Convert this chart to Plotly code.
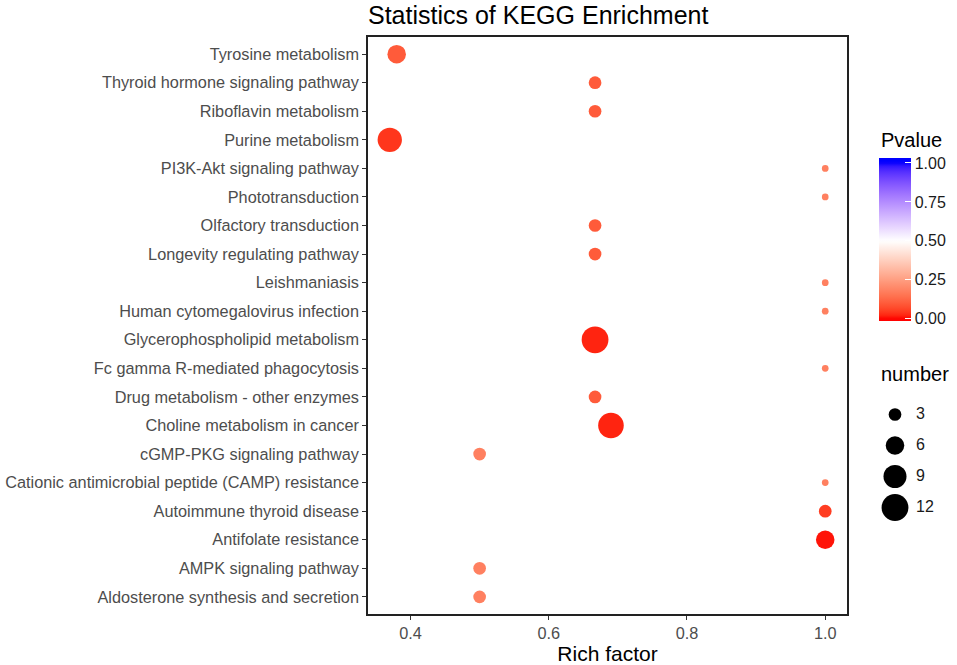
import plotly.graph_objects as go
import numpy as np

# ---------------- data ----------------
pathways = [
    "Tyrosine metabolism",
    "Thyroid hormone signaling pathway",
    "Riboflavin metabolism",
    "Purine metabolism",
    "PI3K-Akt signaling pathway",
    "Phototransduction",
    "Olfactory transduction",
    "Longevity regulating pathway",
    "Leishmaniasis",
    "Human cytomegalovirus infection",
    "Glycerophospholipid metabolism",
    "Fc gamma R-mediated phagocytosis",
    "Drug metabolism - other enzymes",
    "Choline metabolism in cancer",
    "cGMP-PKG signaling pathway",
    "Cationic antimicrobial peptide (CAMP) resistance",
    "Autoimmune thyroid disease",
    "Antifolate resistance",
    "AMPK signaling pathway",
    "Aldosterone synthesis and secretion",
]
rich_factor = [0.38, 0.667, 0.667, 0.37, 1.0, 1.0, 0.667, 0.667, 1.0, 1.0,
               0.667, 1.0, 0.667, 0.69, 0.5, 1.0, 1.0, 1.0, 0.5, 0.5]
number = [6, 3, 3, 10, 1, 1, 3, 3, 1, 1, 12, 1, 3, 11, 3, 1, 3, 6, 3, 3]
pvalue = [0.10, 0.10, 0.10, 0.04, 0.18, 0.18, 0.10, 0.10, 0.18, 0.18,
          0.02, 0.18, 0.10, 0.02, 0.18, 0.18, 0.05, 0.01, 0.18, 0.18]
size_breaks = [3, 6, 9, 12]
p_ticks = [0, 0.25, 0.5, 0.75, 1.0]

# ---------------- Lab colour interpolation (ggplot gradient2 style) ----------------
def _lin(c):
    c = c / 255.0
    return c / 12.92 if c <= 0.04045 else ((c + 0.055) / 1.055) ** 2.4

def _delin(c):
    c = 12.92 * c if c <= 0.0031308 else 1.055 * max(c, 0) ** (1 / 2.4) - 0.055
    return int(round(min(max(c, 0), 1) * 255))

M = np.array([[0.4124564, 0.3575761, 0.1804375],
              [0.2126729, 0.7151522, 0.0721750],
              [0.0193339, 0.1191920, 0.9503041]])
Minv = np.linalg.inv(M)
WP = np.array([0.95047, 1.0, 1.08883])

def _f(t):
    return t ** (1 / 3) if t > 216 / 24389 else (24389 / 27 * t + 16) / 116

def _finv(t):
    return t ** 3 if t ** 3 > 216 / 24389 else (116 * t - 16) / (24389 / 27)

def rgb2lab(rgb):
    xyz = M @ np.array([_lin(v) for v in rgb]) / WP
    fx, fy, fz = [_f(v) for v in xyz]
    return np.array([116 * fy - 16, 500 * (fx - fy), 200 * (fy - fz)])

def lab2rgb(lab):
    L, a, b = lab
    fy = (L + 16) / 116
    fx = fy + a / 500
    fz = fy - b / 200
    xyz = np.array([_finv(fx), _finv(fy), _finv(fz)]) * WP
    rgb = Minv @ xyz
    return tuple(_delin(v) for v in rgb)

low, mid, high = rgb2lab((255, 0, 0)), rgb2lab((255, 255, 255)), rgb2lab((0, 0, 255))

def pcolor(v):
    v = min(max(v, 0.0), 1.0)
    if v <= 0.5:
        lab = low + (mid - low) * (v / 0.5)
    else:
        lab = mid + (high - mid) * ((v - 0.5) / 0.5)
    return lab2rgb(lab)

# ggplot's colourbar runs slightly past its limits
CMIN, CMAX = -0.015, 1.032
colorscale = []
for t in np.linspace(0, 1, 61):
    r, g, b = pcolor(CMIN + t * (CMAX - CMIN))
    colorscale.append([float(t), f"rgb({r},{g},{b})"])

# ---------------- size scale (area ~ number) ----------------
nmin, nmax = 1, 12
dmin, dmax = 6.7, 26.8
def size_scale(n):
    n = np.asarray(n, dtype=float)
    return dmin + (dmax - dmin) * (np.sqrt(n) - np.sqrt(nmin)) / (np.sqrt(nmax) - np.sqrt(nmin))

FONT = "Liberation Sans, Arial, sans-serif"
W, H = 957, 665
L_M, R_M, T_M, B_M = 368, 10, 37, 51
PW = W - L_M - R_M
PH = H - T_M - B_M

def px_x(x):
    return (x - L_M) / PW

def px_y(y):
    return (H - B_M - y) / PH

fig = go.Figure()
fig.add_trace(go.Scatter(
    x=rich_factor, y=pathways, mode="markers",
    marker=dict(size=size_scale(number), color=pvalue, colorscale=colorscale,
                cmin=CMIN, cmax=CMAX, line=dict(width=0), opacity=1,
                colorbar=dict(
                    x=px_x(879), xanchor="left", xpad=0,
                    y=px_y(321), yanchor="bottom", ypad=0,
                    lenmode="pixels", len=163,
                    thickness=32, outlinewidth=0,
                    tickvals=p_ticks, tickformat=".2f", ticks="inside",
                    ticklen=6, tickcolor="white", tickwidth=1,
                    tickfont=dict(size=16, color="#1a1a1a", family=FONT),
                )),
    showlegend=False, hoverinfo="skip",
))

# size legend drawn on its own small axes (x range in px units of that axis)
fig.add_trace(go.Scatter(
    x=[15] * len(size_breaks), y=[str(v) for v in size_breaks], mode="markers",
    marker=dict(size=size_scale(size_breaks), color="black", line=dict(width=0), opacity=1),
    xaxis="x2", yaxis="y2", showlegend=False, hoverinfo="skip",
))
fig.add_trace(go.Scatter(
    x=[36] * len(size_breaks), y=[str(v) for v in size_breaks], mode="text",
    text=[str(v) for v in size_breaks], textposition="middle right",
    textfont=dict(size=16, color="#1a1a1a", family=FONT),
    xaxis="x2", yaxis="y2", showlegend=False, hoverinfo="skip",
))

fig.update_layout(
    width=W, height=H,
    margin=dict(l=L_M, r=R_M, t=T_M, b=B_M, autoexpand=False),
    paper_bgcolor="white", plot_bgcolor="white",
    font=dict(family=FONT),
    title=dict(text="Statistics of KEGG Enrichment", x=0, xref="paper", xanchor="left",
               y=1 - 15 / H, yref="container", yanchor="middle",
               font=dict(size=25, color="black", family=FONT)),
    xaxis=dict(domain=[0, px_x(847)], range=[0.3385, 1.0315], automargin=False,
               tickvals=[0.4, 0.6, 0.8, 1.0], tickformat=".1f",
               showgrid=False, zeroline=False,
               showline=True, mirror=True, linecolor="#222222", linewidth=1.5,
               ticks="outside", ticklen=4, tickwidth=1.3, tickcolor="#333333",
               tickfont=dict(size=16.3, color="#4D4D4D", family=FONT),
               title=dict(text="Rich factor", font=dict(size=21, color="black", family=FONT), standoff=1)),
    yaxis=dict(type="category", categoryorder="array", categoryarray=pathways[::-1],
               range=[-0.6, len(pathways) - 0.4], automargin=False,
               showgrid=False, zeroline=False,
               showline=True, mirror=True, linecolor="#222222", linewidth=1.5,
               ticks="outside", ticklen=4, tickwidth=1.3, tickcolor="#333333",
               tickfont=dict(size=16.3, color="#4D4D4D", family=FONT)),
    xaxis2=dict(domain=[px_x(880), 1.0], range=[0, W - R_M - 880], anchor="y2",
                visible=False, showgrid=False, zeroline=False),
    yaxis2=dict(domain=[px_y(523), px_y(399)], anchor="x2",
                type="category", categoryorder="array",
                categoryarray=[str(v) for v in size_breaks[::-1]],
                range=[-0.5, 3.5], visible=False, showgrid=False, zeroline=False),
    annotations=[
        dict(text="Pvalue", x=px_x(879), xref="paper", xanchor="left",
             y=px_y(140), yref="paper", yanchor="middle", showarrow=False,
             font=dict(size=20, color="black", family=FONT)),
        dict(text="number", x=px_x(879), xref="paper", xanchor="left",
             y=px_y(374), yref="paper", yanchor="middle", showarrow=False,
             font=dict(size=20, color="black", family=FONT)),
    ],
)

# remove the page's default 8px body margin so the figure sits at the window origin
fig.write_html("out.html", config={"displayModeBar": False},
               post_script="document.body.style.margin='0';")
